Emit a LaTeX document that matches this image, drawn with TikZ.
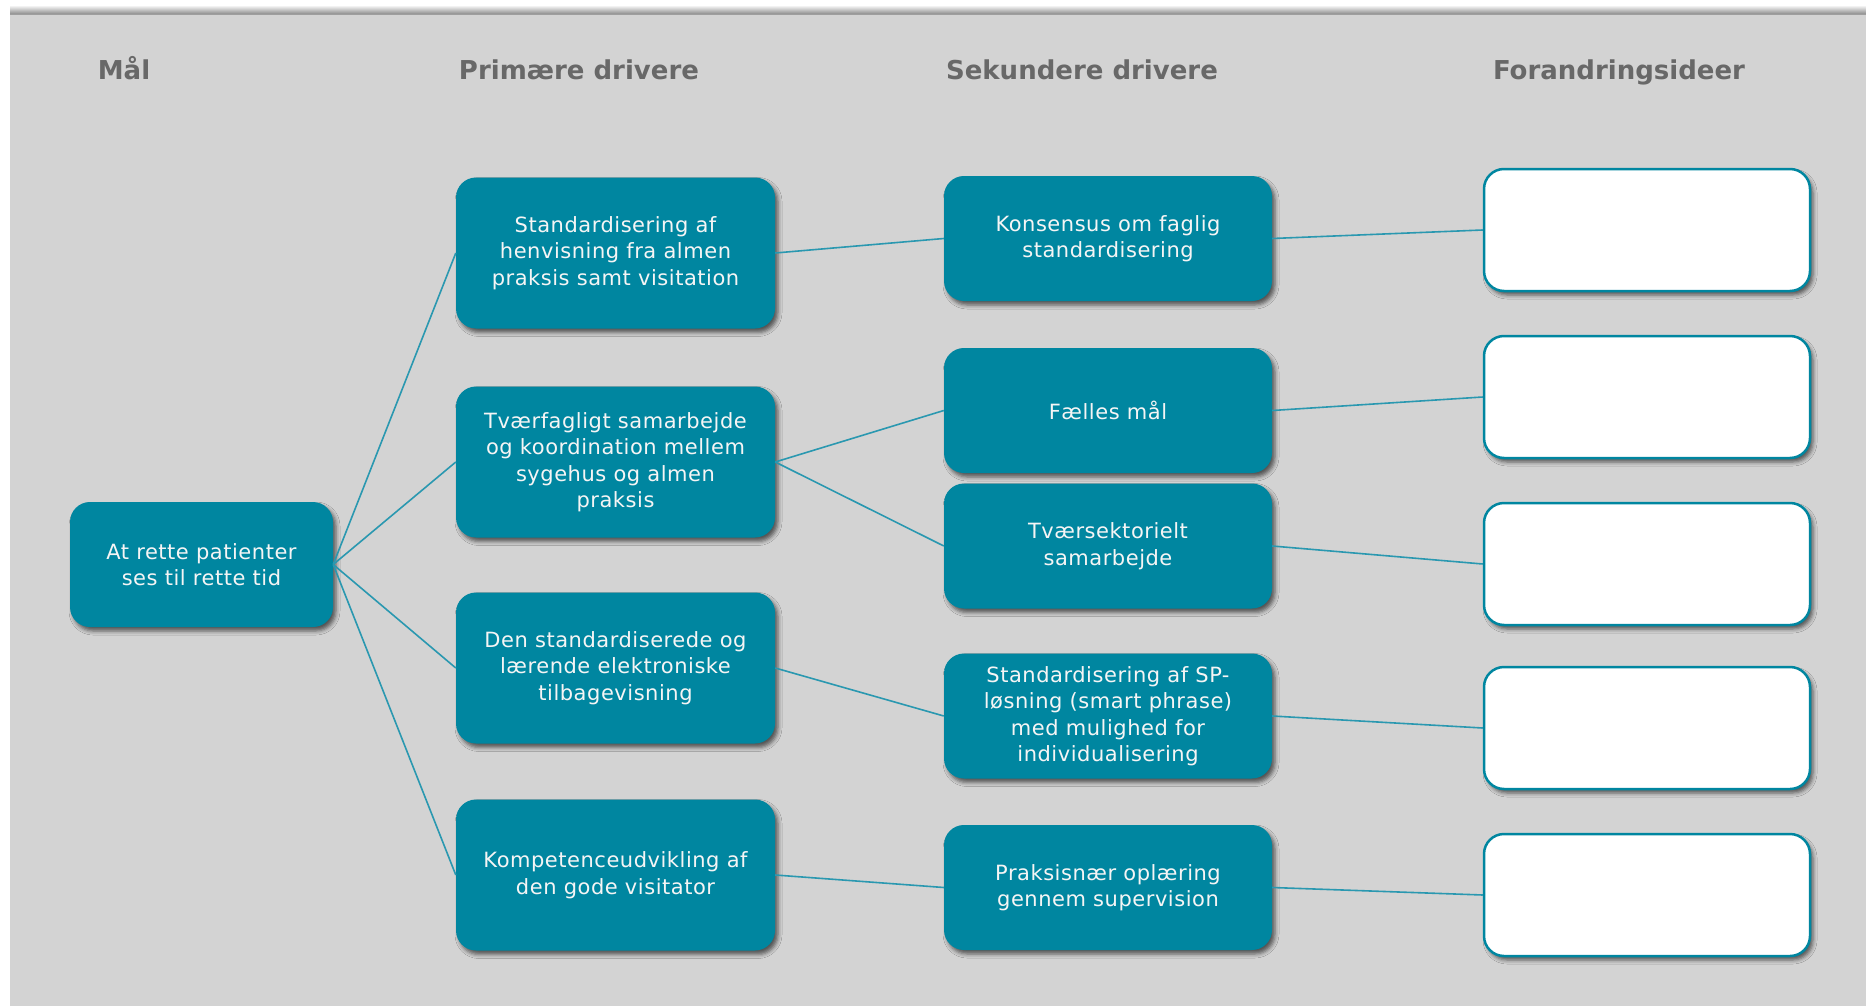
\documentclass[tikz,border=0pt]{standalone}
\usepackage{fontspec}
\setmainfont{DejaVu Sans}
\newfontfamily\boxfont{DejaVu Sans}[LetterSpace=2.5]
\usetikzlibrary{shadows.blur}

\definecolor{boxteal}{RGB}{0,134,160}
\definecolor{linkteal}{RGB}{42,152,176}
\definecolor{panelgray}{RGB}{211,211,211}
\definecolor{headgray}{RGB}{104,104,104}

\begin{document}
\begin{tikzpicture}[x=1pt,y=-1pt,
  header/.style={font=\fontsize{26}{30}\selectfont\bfseries, text=headgray, inner sep=0pt, anchor=base},
  box/.style={rounded corners=20pt, align=center, inner sep=0pt,
    font=\boxfont\fontsize{21}{26.5}\selectfont,
    blur shadow={shadow xshift=3pt, shadow yshift=-4pt, shadow blur radius=4pt, shadow opacity=60}},
  goalbox/.style={box, fill=boxteal, text=white!96!black, minimum width=263pt, minimum height=125pt},
  primbox/.style={box, fill=boxteal, text=white!96!black, minimum width=319pt, minimum height=151pt},
  secbox/.style={box, fill=boxteal, text=white!96!black, minimum width=328pt, minimum height=125pt},
  ideabox/.style={box, fill=white, draw=boxteal, line width=2.5pt, minimum width=326pt, minimum height=122pt},
  link/.style={draw=linkteal, line width=1.6pt}
]
\useasboundingbox (0,0) rectangle (1866,1006);

% panel with its top shadow
\fill[white] (0,0) rectangle (1866,1006);
\shade[top color=white, bottom color=black!45] (10,5) rectangle (1866,14);
\fill[panelgray] (10,14) rectangle (1866,1006);
\draw[black!38, line width=1.5pt] (10,14.5) -- (1866,14.5);

% column headings
\node[header] (hGoal) at (124,80) {Mål};
\node[header] (hPrim) at (579,80) {Primære drivere};
\node[header] (hSec)  at (1082,80) {Sekundere drivere};
\node[header] (hIdea) at (1619,80) {Forandringsideer};

% goal
\node[goalbox] (goal) at (201.5,564.5) {At rette patienter\\ses til rette tid};

% primary drivers
\node[primbox] (p1) at (615.5,253) {Standardisering af\\henvisning fra almen\\praksis samt visitation};
\node[primbox] (p2) at (615.5,462) {Tværfagligt samarbejde\\og koordination mellem\\sygehus og almen\\praksis};
\node[primbox] (p3) at (615.5,668) {Den standardiserede og\\lærende elektroniske\\tilbagevisning};
\node[primbox] (p4) at (615.5,875) {Kompetenceudvikling af\\den gode visitator};

% secondary drivers
\node[secbox] (s1) at (1108,238.5) {Konsensus om faglig\\standardisering};
\node[secbox] (s2) at (1108,410.5) {Fælles mål};
\node[secbox] (s3) at (1108,546) {Tværsektorielt\\samarbejde};
\node[secbox] (s4) at (1108,716) {Standardisering af SP-\\løsning (smart phrase)\\med mulighed for\\individualisering};
\node[secbox] (s5) at (1108,887.5) {Praksisnær oplæring\\gennem supervision};

% change ideas (empty)
\node[ideabox] (i1) at (1647,230) {};
\node[ideabox] (i2) at (1647,397) {};
\node[ideabox] (i3) at (1647,564) {};
\node[ideabox] (i4) at (1647,728) {};
\node[ideabox] (i5) at (1647,895) {};

% connectors
\foreach \p in {p1,p2,p3,p4} \draw[link] (goal.east) -- (\p.west);
\draw[link] (p1.east) -- (s1.west);
\draw[link] (p2.east) -- (s2.west);
\draw[link] (p2.east) -- (s3.west);
\draw[link] (p3.east) -- (s4.west);
\draw[link] (p4.east) -- (s5.west);
\draw[link] (s1.east) -- (i1.west);
\draw[link] (s2.east) -- (i2.west);
\draw[link] (s3.east) -- (i3.west);
\draw[link] (s4.east) -- (i4.west);
\draw[link] (s5.east) -- (i5.west);
\end{tikzpicture}
\end{document}
